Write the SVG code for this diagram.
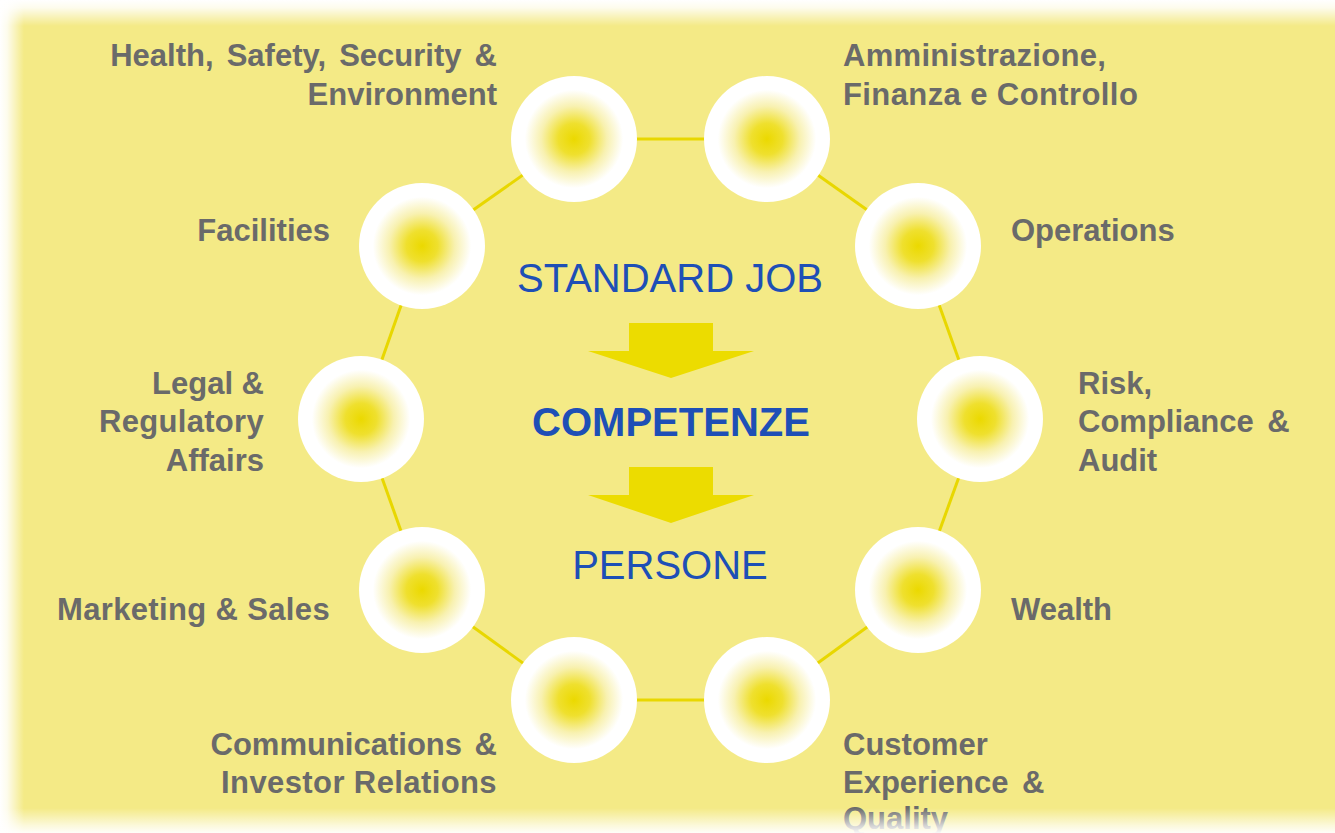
<svg xmlns="http://www.w3.org/2000/svg" width="1335" height="833" viewBox="0 0 1335 833">
  <defs>
    <radialGradient id="glow" cx="0.5" cy="0.5" r="0.5">
      <stop offset="0" stop-color="#EBD900"/>
      <stop offset="0.25" stop-color="#EFE02E"/>
      <stop offset="0.52" stop-color="#F8F1B0"/>
      <stop offset="0.78" stop-color="#FFFFFF"/>
      <stop offset="1" stop-color="#FFFFFF"/>
    </radialGradient>
    <linearGradient id="fadeTop" x1="0" y1="0" x2="0" y2="1">
      <stop offset="0" stop-color="#FFFFFF" stop-opacity="1"/>
      <stop offset="0.3" stop-color="#FFFFFF" stop-opacity="0.85"/>
      <stop offset="1" stop-color="#FFFFFF" stop-opacity="0"/>
    </linearGradient>
    <linearGradient id="fadeLeft" x1="0" y1="0" x2="1" y2="0">
      <stop offset="0" stop-color="#FFFFFF" stop-opacity="1"/>
      <stop offset="0.3" stop-color="#FFFFFF" stop-opacity="0.85"/>
      <stop offset="1" stop-color="#FFFFFF" stop-opacity="0"/>
    </linearGradient>
    <linearGradient id="fadeBottom" x1="0" y1="1" x2="0" y2="0">
      <stop offset="0" stop-color="#FFFFFF" stop-opacity="0.95"/>
      <stop offset="0.3" stop-color="#FFFFFF" stop-opacity="0.7"/>
      <stop offset="1" stop-color="#FFFFFF" stop-opacity="0"/>
    </linearGradient>
    <style>
      .bg { fill: #F4EA86; }
      .link { stroke: #E8D700; stroke-width: 3; fill: none; }
      .bulb { fill: url(#glow); }
      .lbl { font-family: "Liberation Sans", Arial, sans-serif; font-weight: bold; font-size: 31px; fill: #6A6A6A; }
      .end { text-anchor: end; }
      .mid { font-family: "Liberation Sans", Arial, sans-serif; font-size: 40px; fill: #1E4FB6; text-anchor: middle; }
      .strong { font-weight: bold; }
      .arrow { fill: #ECDC00; }
    </style>
  </defs>

  <rect class="bg" x="0" y="0" width="1335" height="833"/>

  <!-- ring of connectors -->
  <g id="connectors">
    <line class="link" x1="574" y1="139" x2="767" y2="139"/>
    <line class="link" x1="767" y1="139" x2="918" y2="246"/>
    <line class="link" x1="918" y1="246" x2="980" y2="419"/>
    <line class="link" x1="980" y1="419" x2="918" y2="590"/>
    <line class="link" x1="918" y1="590" x2="767" y2="700"/>
    <line class="link" x1="767" y1="700" x2="574" y2="700"/>
    <line class="link" x1="574" y1="700" x2="422" y2="590"/>
    <line class="link" x1="422" y1="590" x2="361" y2="419"/>
    <line class="link" x1="361" y1="419" x2="422" y2="246"/>
    <line class="link" x1="422" y1="246" x2="574" y2="139"/>
  </g>

  <g id="hsse">
    <circle class="bulb" cx="574" cy="139" r="63"/>
    <text class="lbl end" x="497" y="66" word-spacing="4.5">Health, Safety, Security &amp;</text>
    <text class="lbl end" x="497" y="105">Environment</text>
  </g>
  <g id="afc">
    <circle class="bulb" cx="767" cy="139" r="63"/>
    <text class="lbl" x="843" y="66" letter-spacing="0.3">Amministrazione,</text>
    <text class="lbl" x="843" y="105" letter-spacing="0.4">Finanza e Controllo</text>
  </g>
  <g id="facilities">
    <circle class="bulb" cx="422" cy="246" r="63"/>
    <text class="lbl end" x="330" y="241">Facilities</text>
  </g>
  <g id="operations">
    <circle class="bulb" cx="918" cy="246" r="63"/>
    <text class="lbl" x="1011" y="241">Operations</text>
  </g>
  <g id="legal">
    <circle class="bulb" cx="361" cy="419" r="63"/>
    <text class="lbl end" x="264" y="394">Legal &amp;</text>
    <text class="lbl end" x="264" y="432" letter-spacing="0.3">Regulatory</text>
    <text class="lbl end" x="264" y="471">Affairs</text>
  </g>
  <g id="risk">
    <circle class="bulb" cx="980" cy="419" r="63"/>
    <text class="lbl" x="1078" y="394">Risk,</text>
    <text class="lbl" x="1078" y="432" word-spacing="5">Compliance &amp;</text>
    <text class="lbl" x="1078" y="471">Audit</text>
  </g>
  <g id="marketing">
    <circle class="bulb" cx="422" cy="590" r="63"/>
    <text class="lbl end" x="330" y="620" letter-spacing="0.35">Marketing &amp; Sales</text>
  </g>
  <g id="wealth">
    <circle class="bulb" cx="918" cy="590" r="63"/>
    <text class="lbl" x="1011" y="620">Wealth</text>
  </g>
  <g id="communications">
    <circle class="bulb" cx="574" cy="700" r="63"/>
    <text class="lbl end" x="497" y="755" word-spacing="4">Communications &amp;</text>
    <text class="lbl end" x="497" y="793" letter-spacing="0.4">Investor Relations</text>
  </g>
  <g id="customer">
    <circle class="bulb" cx="767" cy="700" r="63"/>
    <text class="lbl" x="843" y="755">Customer</text>
    <text class="lbl" x="843" y="793" word-spacing="5">Experience &amp;</text>
    <text class="lbl" x="843" y="829">Quality</text>
  </g>

  <!-- centre: job standard to competences to people -->
  <g id="centre">
    <text class="mid" x="670" y="292">STANDARD JOB</text>
    <path class="arrow" d="M629 323 H713 V351 H754 L671 378 L588 351 H629 Z"/>
    <text class="mid strong" x="671" y="436">COMPETENZE</text>
    <path class="arrow" d="M629 467 H713 V495 H754 L671 523 L588 495 H629 Z"/>
    <text class="mid" x="670" y="579">PERSONE</text>
  </g>

  <!-- soft white edges -->
  <rect x="0" y="0" width="1335" height="26" fill="url(#fadeTop)"/>
  <rect x="0" y="0" width="24" height="833" fill="url(#fadeLeft)"/>
  <rect x="0" y="808" width="1335" height="25" fill="url(#fadeBottom)"/>
</svg>
